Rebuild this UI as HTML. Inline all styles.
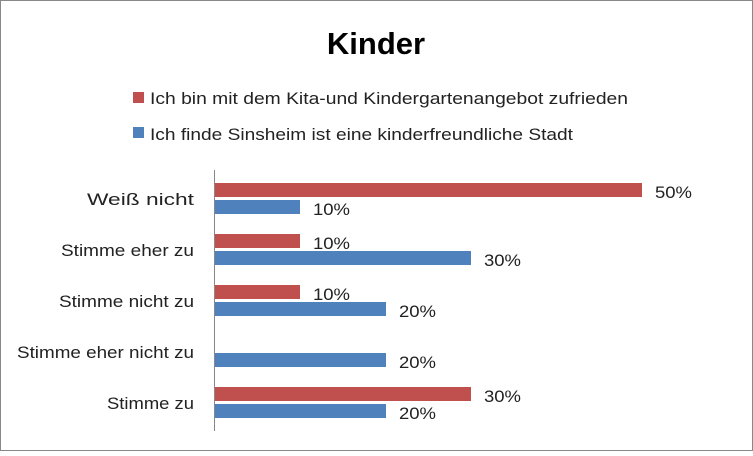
<!DOCTYPE html>
<html><head><style>
body{margin:0;background:#fff}
svg text{font-family:"Liberation Sans",sans-serif}
</style></head><body>
<svg width="753" height="451" xmlns="http://www.w3.org/2000/svg">
<rect x="0.5" y="0.5" width="752" height="450" fill="#fff" stroke="#888"/>
<text x="376" y="54" font-size="31" font-weight="bold" text-anchor="middle" fill="#000">Kinder</text>
<rect x="133" y="92" width="11" height="11" fill="#c0504d"/>
<text x="150" y="104" font-size="17" fill="#222" textLength="478" lengthAdjust="spacingAndGlyphs">Ich bin mit dem Kita-und Kindergartenangebot zufrieden</text>
<rect x="133" y="127" width="11" height="11" fill="#4f81bd"/>
<text x="150" y="140" font-size="17" fill="#222" textLength="423" lengthAdjust="spacingAndGlyphs">Ich finde Sinsheim ist eine kinderfreundliche Stadt</text>
<line x1="214.5" y1="170" x2="214.5" y2="431" stroke="#888"/>
<g font-size="16.5" fill="#222" lengthAdjust="spacingAndGlyphs">
<text x="87" y="205" textLength="107" lengthAdjust="spacingAndGlyphs">Weiß nicht</text>
<text x="61" y="256" textLength="133" lengthAdjust="spacingAndGlyphs">Stimme eher zu</text>
<text x="59" y="307" textLength="135" lengthAdjust="spacingAndGlyphs">Stimme nicht zu</text>
<text x="17" y="358" textLength="177" lengthAdjust="spacingAndGlyphs">Stimme eher nicht zu</text>
<text x="107" y="409" textLength="87" lengthAdjust="spacingAndGlyphs">Stimme zu</text>
</g>
<g fill="#c0504d">
<rect x="215" y="183" width="427" height="14"/>
<rect x="215" y="234" width="85" height="14"/>
<rect x="215" y="285" width="85" height="14"/>
<rect x="215" y="387" width="256" height="14"/>
</g>
<g fill="#4f81bd">
<rect x="215" y="200" width="85" height="14"/>
<rect x="215" y="251" width="256" height="14"/>
<rect x="215" y="302" width="171" height="14"/>
<rect x="215" y="353" width="171" height="14"/>
<rect x="215" y="404" width="171" height="14"/>
</g>
<g font-size="17" fill="#222">
<text x="655" y="198" textLength="37" lengthAdjust="spacingAndGlyphs">50%</text>
<text x="313" y="215" textLength="37" lengthAdjust="spacingAndGlyphs">10%</text>
<text x="313" y="249" textLength="37" lengthAdjust="spacingAndGlyphs">10%</text>
<text x="484" y="266" textLength="37" lengthAdjust="spacingAndGlyphs">30%</text>
<text x="313" y="300" textLength="37" lengthAdjust="spacingAndGlyphs">10%</text>
<text x="399" y="317" textLength="37" lengthAdjust="spacingAndGlyphs">20%</text>
<text x="399" y="368" textLength="37" lengthAdjust="spacingAndGlyphs">20%</text>
<text x="484" y="402" textLength="37" lengthAdjust="spacingAndGlyphs">30%</text>
<text x="399" y="419" textLength="37" lengthAdjust="spacingAndGlyphs">20%</text>
</g>
</svg>
</body></html>
